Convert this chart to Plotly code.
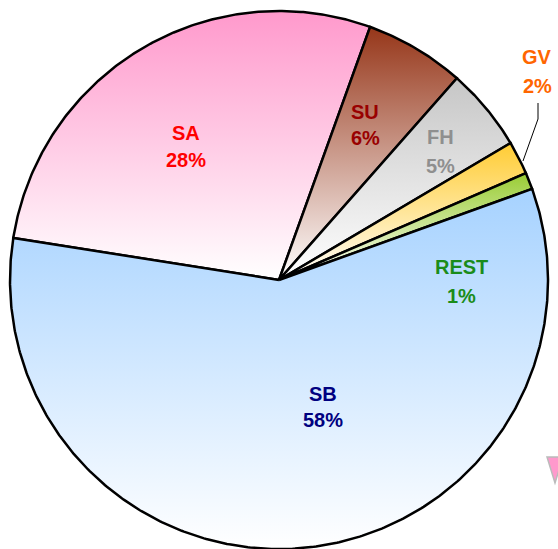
import numpy as np
import plotly.graph_objects as go

# Share of each category (percent), drawn clockwise from the left edge
labels = ["SA", "SU", "FH", "GV", "REST", "SB"]
values = [28, 6, 5, 2, 1, 58]

# Styling
top_colors = ["#ff99cc", "#963619", "#c6c6c6", "#ffcc33", "#99cc33", "#a6d2ff"]
text_colors = ["#ff0000", "#990000", "#8f8f8f", "#ff6600", "#1a8c1a", "#000080"]
# (x, y of the name line, gap to the percent line), in pixels from the top-left
label_xy = {
    "SA": (186, 133, 27), "SU": (365, 112, 26), "FH": (440, 137, 29),
    "GV": (537, 57, 29), "REST": (461, 267, 29), "SB": (323, 394, 26),
}

W, H = 558, 549
CX, CY, R = 279, H - 280, 269
START_DEG = 171.0

fig = go.Figure()

total = float(sum(values))
angle = START_DEG
for name, val, col in zip(labels, values, top_colors):
    span = 360.0 * val / total
    a0, a1 = angle, angle - span
    n = max(int(span * 2), 4)
    t = np.radians(np.linspace(a0, a1, n))
    xs = np.concatenate([[CX], CX + R * np.cos(t), [CX]])
    ys = np.concatenate([[CY], CY + R * np.sin(t), [CY]])
    fig.add_trace(go.Scatter(
        x=xs, y=ys, mode="lines", fill="toself",
        fillgradient=dict(type="vertical",
                          colorscale=[[0, "#ffffff"], [1, col]]),
        line=dict(color="black", width=2.5),
        hoverinfo="skip", showlegend=False,
    ))
    angle = a1

# Leader line for the small GV slice
gx, gy, _ = label_xy["GV"]
fig.add_trace(go.Scatter(
    x=[gx + 1, gx + 1, gx - 14], y=[H - (gy + 46), H - (gy + 62), H - (gy + 104)],
    mode="lines", line=dict(color="black", width=1),
    hoverinfo="skip", showlegend=False,
))

font_family = "Liberation Sans, Arial, sans-serif"
for name, val, tc in zip(labels, values, text_colors):
    x, y, gap = label_xy[name]
    for line_text, ly in ((name, y), (f"{val}%", y + gap)):
        fig.add_annotation(
            x=x, y=H - ly, xref="x", yref="y",
            text=f"<b>{line_text}</b>",
            showarrow=False, xanchor="center", yanchor="middle",
            font=dict(family=font_family, size=20, color=tc),
        )

# Partly visible marker at the lower right edge
fig.add_shape(
    type="path", xref="x", yref="y",
    path=f"M 547 {H-457} L 563 {H-457} L 555 {H-483} Z",
    fillcolor="#ff99cc", line=dict(color="#bbbbbb", width=1.5),
)

fig.update_xaxes(range=[0, W], visible=False, fixedrange=True)
fig.update_yaxes(range=[0, H], visible=False, fixedrange=True)
fig.update_layout(
    width=W, height=H, margin=dict(l=0, r=0, t=0, b=0),
    paper_bgcolor="white", plot_bgcolor="white",
)

fig.write_html("out.html")
